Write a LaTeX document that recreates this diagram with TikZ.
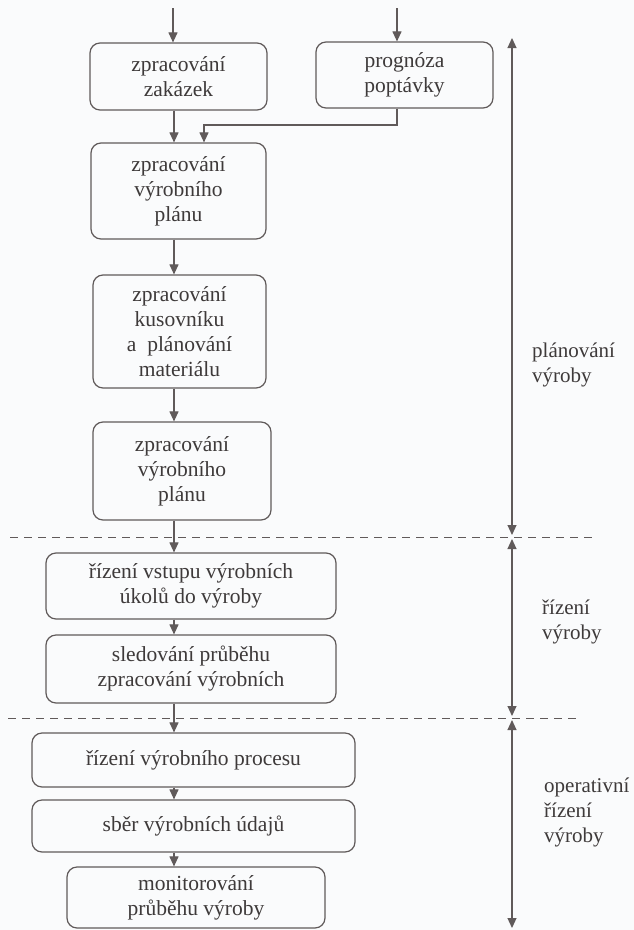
\documentclass[tikz,border=0pt]{standalone}
\usepackage{fontspec}
\setmainfont{Liberation Serif}
\usetikzlibrary{arrows.meta}
\definecolor{ink}{RGB}{62,58,58}
\definecolor{linec}{RGB}{96,90,90}
\definecolor{paper}{RGB}{250,251,252}
\begin{document}
\begin{tikzpicture}[x=1pt,y=-1pt,
  box/.style={draw=linec, line width=1.2pt, rounded corners=10pt, align=center,
    text=ink, font=\fontsize{21.5}{25}\selectfont, inner sep=0pt},
  arr/.style={draw=linec, line width=1.1pt, -{Triangle[width=9pt,length=10pt]}},
  both/.style={draw=linec, line width=1.1pt,
    {Triangle[width=9pt,length=10pt]}-{Triangle[width=9pt,length=10pt]}},
  sep/.style={draw=linec, line width=1pt, dash pattern=on 8pt off 6pt},
  lab/.style={anchor=west, align=left, text=ink, font=\fontsize{21}{25}\selectfont, inner sep=0pt}]
\fill[paper] (0,0) rectangle (634,930);
\useasboundingbox (0,0) rectangle (634,930);

% process boxes
\node[box, minimum width=177pt, minimum height=67pt] (zak) at (178.5,76.5) {zpracování\\zakázek};
\node[box, minimum width=177pt, minimum height=66pt] (prog) at (404.5,75) {prognóza\\poptávky};
\node[box, minimum width=175pt, minimum height=96pt] (vp1) at (178.5,191) {zpracování\\výrobního\\plánu};
\node[box, minimum width=173pt, minimum height=113pt] (kus) at (179.5,331.5) {zpracování\\kusovníku\\a~~plánování\\materiálu};
\node[box, minimum width=178pt, minimum height=98pt] (vp2) at (182,471) {zpracování\\výrobního\\plánu};
\node[box, minimum width=290pt, minimum height=66pt] (vstup) at (191,586) {řízení vstupu výrobních\\úkolů do výroby};
\node[box, minimum width=290pt, minimum height=68pt] (sled) at (191,669) {sledování průběhu\\zpracování výrobních};
\node[box, minimum width=323pt, minimum height=54pt] (proc) at (193.5,760) {řízení výrobního procesu};
\node[box, minimum width=323pt, minimum height=52pt] (sber) at (193.5,826) {sběr výrobních údajů};
\node[box, minimum width=258pt, minimum height=61pt] (mon) at (196,897.5) {monitorování\\průběhu výroby};

% connectors of the main column
\coordinate (col) at (174,0);
\coordinate (in1) at (173,8);
\coordinate (in2) at (397,8);
\coordinate (bend) at (204,125);
\draw[arr] (in1) -- (in1 |- zak.north);
\draw[arr] (in2) -- (in2 |- prog.north);
\draw[arr] (col |- zak.south) -- (col |- vp1.north);
\draw[arr] (in2 |- prog.south) |- (bend) -- (bend |- vp1.north);
\draw[arr] (col |- vp1.south) -- (col |- kus.north);
\draw[arr] (col |- kus.south) -- (col |- vp2.north);
\draw[arr] (col |- vp2.south) -- (col |- vstup.north);
\draw[arr] (col |- vstup.south) -- (col |- sled.north);
\draw[arr] (col |- sled.south) -- (col |- proc.north);
\draw[arr] (col |- proc.south) -- (col |- sber.north);
\draw[arr] (col |- sber.south) -- (col |- mon.north);

% level separators
\coordinate (d1l) at (10,537);
\coordinate (d1r) at (595,537);
\coordinate (d2l) at (8,718);
\coordinate (d2r) at (578,718);
\draw[sep] (d1l) -- (d1r);
\draw[sep] (d2l) -- (d2r);

% extent arrows on the right
\coordinate (a0) at (512,38);
\coordinate (a1) at (512,535);
\coordinate (a2) at (512,539);
\coordinate (a3) at (512,716);
\coordinate (a4) at (512,720);
\coordinate (a5) at (512,928);
\draw[both] (a0) -- (a1);
\draw[both] (a2) -- (a3);
\draw[both] (a4) -- (a5);

% level labels
\node[lab] (lplan) at (532,365) {plánování\\výroby};
\node[lab] (lriz) at (542,622) {řízení\\výroby};
\node[lab] (lop) at (544,812) {operativní\\řízení\\výroby};
\end{tikzpicture}
\end{document}
